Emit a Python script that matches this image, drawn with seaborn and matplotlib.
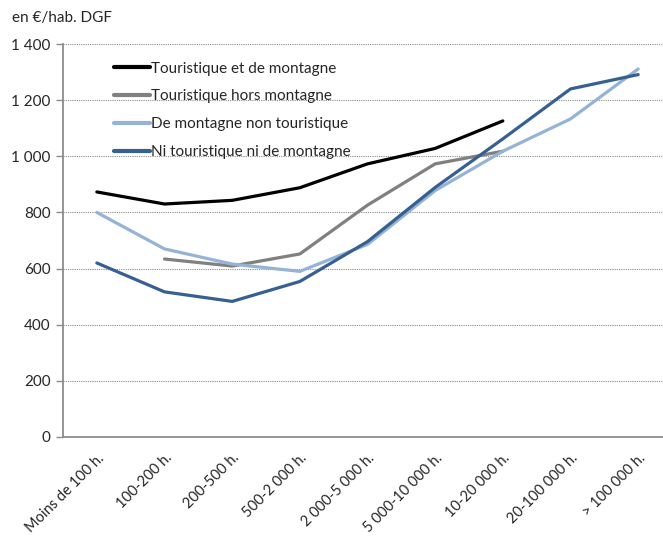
import matplotlib
matplotlib.use("Agg")
import matplotlib.pyplot as plt
import matplotlib.ticker as mticker
import numpy as np
import pandas as pd
import seaborn as sns

categories = ["Moins de 100 h.", "100-200 h.", "200-500 h.", "500-2 000 h.", "2 000-5 000 h.",
              "5 000-10 000 h.", "10-20 000 h.", "20-100 000 h.", "> 100 000 h."]
tour_montagne = [873, 830, 843, 888, 973, 1028, 1126, np.nan, np.nan]
tour_hors = [np.nan, 634, 609, 652, 826, 973, 1018, np.nan, np.nan]
montagne_non_tour = [800, 670, 616, 590, 686, 878, 1018, 1133, 1311]
ni_ni = [620, 517, 483, 554, 696, 889, 1062, 1240, 1291]

series = {
    "Touristique et de montagne": tour_montagne,
    "Touristique hors montagne": tour_hors,
    "De montagne non touristique": montagne_non_tour,
    "Ni touristique ni de montagne": ni_ni,
}
colors = ["#000000", "#808080", "#95b3d7", "#376092"]

rows = []
for name, vals in series.items():
    for i, v in enumerate(vals):
        rows.append({"pos": i, "value": v, "serie": name})
df = pd.DataFrame(rows).dropna()

sns.set_theme(style="white")
plt.rcParams["font.family"] = ["Lato", "DejaVu Sans"]

fig = plt.figure(figsize=(6.63, 5.38), dpi=100)
ax = fig.add_axes([63 / 663, 1 - 437 / 538, 609 / 663, 393 / 538])

sns.lineplot(data=df, x="pos", y="value", hue="serie", palette=colors,
             hue_order=list(series.keys()), linewidth=2.3, ax=ax)

ax.set_xlim(-0.5, len(categories) - 0.5)
ax.set_ylim(0, 1400)
ax.set_yticks(np.arange(0, 1401, 200))
ax.yaxis.set_major_formatter(mticker.FuncFormatter(lambda v, p: f"{int(v):,}".replace(",", " ")))
for yv in range(200, 1401, 200):
    ax.axhline(yv, color="#8c8c8c", linestyle=(0, (1, 1)), linewidth=0.8, zorder=0)

ax.set_xticks(np.arange(len(categories)))
ax.set_xticklabels(categories, rotation=45, ha="right", rotation_mode="anchor", fontsize=10.5)
ax.xaxis.set_minor_locator(mticker.FixedLocator(np.arange(-0.5, len(categories), 1)))
ax.tick_params(axis="x", which="major", length=0, pad=10)
ax.tick_params(axis="x", which="minor", length=5, color="#8c8c8c", width=1)
ax.tick_params(axis="y", length=5, color="#8c8c8c", width=1, labelsize=11, pad=4, left=True)

ax.set_xlabel("")
ax.set_ylabel("")
for side in ["top", "right"]:
    ax.spines[side].set_visible(False)
for side in ["left", "bottom"]:
    ax.spines[side].set_color("#8c8c8c")
    ax.spines[side].set_linewidth(1.3)

leg = ax.legend(loc="upper left", bbox_to_anchor=(106 / 663, 1 - 54 / 538),
                bbox_transform=fig.transFigure, frameon=False, fontsize=11,
                handlelength=2.4, handletextpad=0.05, labelspacing=0.9, borderpad=0)
for line in leg.get_lines():
    line.set_linewidth(3)

fig.text(12 / 663, 1 - 18 / 538, "en €/hab. DGF", fontsize=11, va="center", ha="left")

fig.savefig("out.png", dpi=100)
